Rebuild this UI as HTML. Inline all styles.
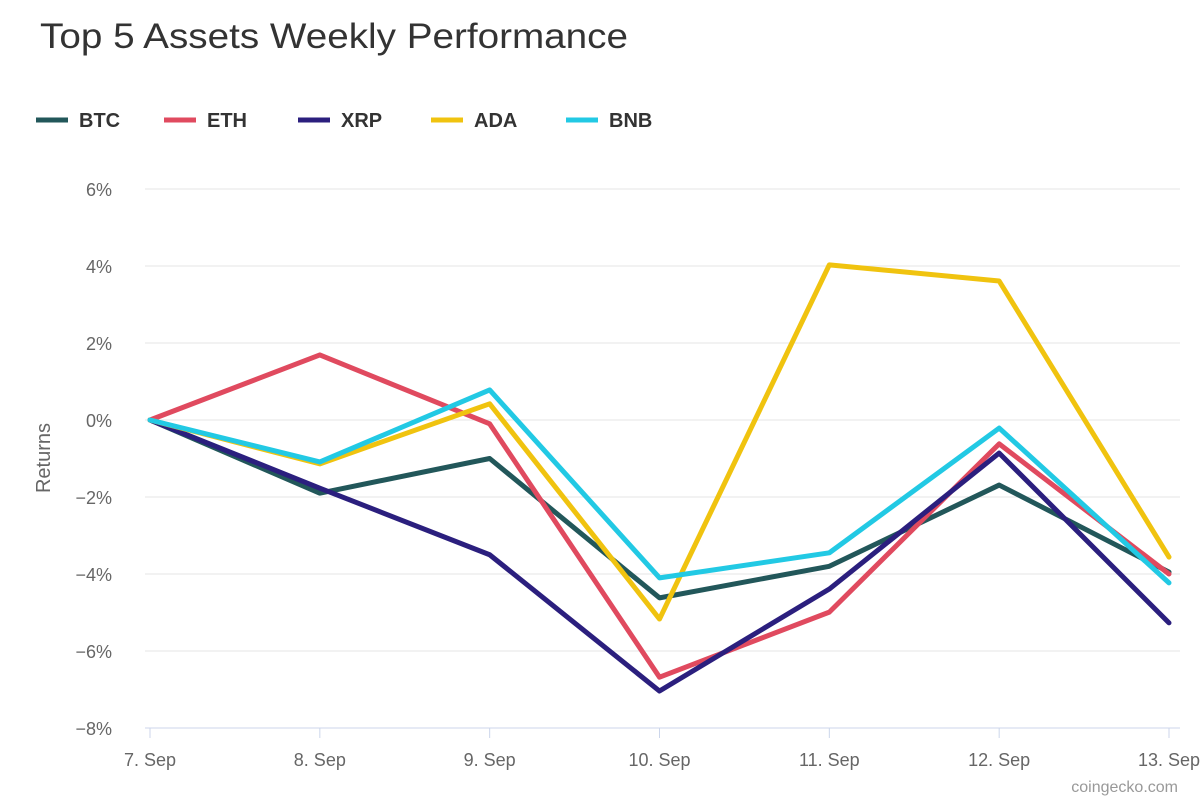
<!DOCTYPE html>
<html><head><meta charset="utf-8"><style>
html,body{margin:0;padding:0;background:#fff;width:1200px;height:800px;overflow:hidden;font-family:"Liberation Sans",sans-serif}
</style></head><body>
<svg id="chart" width="1200" height="800">
<text x="40" y="48" font-size="35" fill="#333" textLength="588" lengthAdjust="spacingAndGlyphs">Top 5 Assets Weekly Performance</text>
<g id="legend"></g>
<g id="grid"></g>
<g id="series"></g>
<text transform="translate(50,458) rotate(-90)" text-anchor="middle" font-size="20" fill="#666">Returns</text>
<text x="1178" y="792" text-anchor="end" font-size="16" fill="#999">coingecko.com</text>
</svg>
<script>
const categories=["7. Sep","8. Sep","9. Sep","10. Sep","11. Sep","12. Sep","13. Sep"];
const yTicks=[6,4,2,0,-2,-4,-6,-8];
const btc=[0,-1.9,-1.0,-4.62,-3.8,-1.69,-3.95];
const eth=[0,1.69,-0.1,-6.68,-4.99,-0.62,-4.0];
const xrp=[0,-1.77,-3.5,-7.04,-4.39,-0.86,-5.27];
const ada=[0,-1.14,0.42,-5.17,4.03,3.61,-3.56];
const bnb=[0,-1.09,0.78,-4.1,-3.45,-0.21,-4.23];
const seriesNames=["BTC","ETH","XRP","ADA","BNB"];
const seriesData=[btc,eth,xrp,ada,bnb];
const colors=["#22575a","#e04a5f","#2b1f7e","#f0c30f","#22c9e4"];
const NS="http://www.w3.org/2000/svg";
const x=i=>150+i*(1169-150)/(categories.length-1);
const y=v=>420-v*38.5;
function mk(t,a,p){const e=document.createElementNS(NS,t);for(const k in a)e.setAttribute(k,a[k]);p.appendChild(e);return e;}
const grid=document.getElementById('grid');
yTicks.forEach(t=>{
 const l=mk('line',{x1:145,x2:1180,y1:y(t),y2:y(t),stroke:t===-8?'#ccd6eb':'#e6e6e6','stroke-width':1},grid);
 
 
 const tx=mk('text',{x:112,y:y(t)+7,'text-anchor':'end','font-size':18,fill:'#666'},grid);
 tx.textContent=(t<0?'\u2212'+(-t):t)+'%';
 
 
});
categories.forEach((c,i)=>{
 const tk=mk('line',{x1:x(i),x2:x(i),y1:728,y2:738,stroke:'#ccd6eb'},grid);
 
 
 const tx=mk('text',{x:x(i),y:766,'text-anchor':'middle','font-size':18,fill:'#666'},grid);
 tx.textContent=c;
 
 
});
const sg=document.getElementById('series');
seriesData.forEach((d,s)=>{
 const p=mk('polyline',{points:d.map((v,i)=>x(i)+','+y(v)).join(' '),fill:'none',stroke:colors[s],'stroke-width':5,'stroke-linejoin':'round','stroke-linecap':'round'},sg);
 
 
});
const lg=document.getElementById('legend');
const lx=[36,164,298,431,566];
seriesNames.forEach((n,s)=>{
 const g=mk('g',{},lg);
 
 
 mk('line',{x1:lx[s],x2:lx[s]+32,y1:120,y2:120,stroke:colors[s],'stroke-width':5},g);
 const t=mk('text',{x:lx[s]+43,y:127,'font-size':20,'font-weight':'bold',fill:'#333'},g);
 t.textContent=n;
});
</script>
</body></html>
